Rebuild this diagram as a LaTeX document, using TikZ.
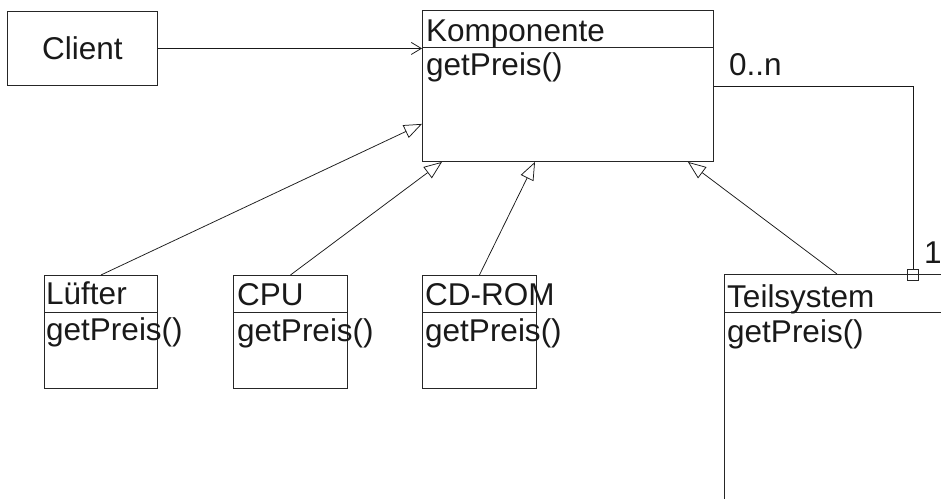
\documentclass[tikz,border=0pt]{standalone}
\usepackage{fontspec}
\setmainfont{Liberation Sans}
\usetikzlibrary{arrows.meta,calc}
\begin{document}
\begin{tikzpicture}[x=1pt,y=-1pt,
  box/.style={draw=black!85, line width=0.9pt, inner sep=0pt, anchor=north west},
  sepline/.style={draw=black!85, line width=0.9pt},
  lbl/.style={anchor=base west, inner sep=0pt, font=\fontsize{31.5}{38}\selectfont, text=black!90},
  link/.style={draw=black!90, line width=0.75pt},
  inherit/.style={link, -{Triangle[open, length=18pt, width=14pt, line width=0.75pt]}},
  navig/.style={link, -{Straight Barb[length=10pt, width=12pt, line width=0.75pt]}}]
\useasboundingbox (0,0) rectangle (941,498);
\clip (0,0) rectangle (941,498);

% client
\node[box, minimum width=150pt, minimum height=74pt,
      font=\fontsize{31.5}{38}\selectfont, text=black!90] (client) at (7,11) {Client};

% abstract component
\node[box, minimum width=291pt, minimum height=151pt] (komp) at (422,10) {};
\draw[sepline] ($(komp.north west)+(0,37)$) -- ($(komp.north east)+(0,37)$);
\node[lbl] (kname) at ($(komp.north west)+(4,31)$) {Komponente};
\node[lbl] (kop) at ($(komp.north west)+(4,65)$) {getPreis()};

% leaf classes
\node[box, minimum width=113pt, minimum height=113pt] (luefter) at (44,275) {};
\draw[sepline] ($(luefter.north west)+(0,37)$) -- ($(luefter.north east)+(0,37)$);
\node[lbl] (lname) at ($(luefter.north west)+(2,29)$) {Lüfter};
\node[lbl] (lop) at ($(luefter.north west)+(2,65)$) {getPreis()};

\node[box, minimum width=114pt, minimum height=113pt] (cpu) at (233,275) {};
\draw[sepline] ($(cpu.north west)+(0,37)$) -- ($(cpu.north east)+(0,37)$);
\node[lbl] (cname) at ($(cpu.north west)+(4,30)$) {CPU};
\node[lbl] (cop) at ($(cpu.north west)+(4,66)$) {getPreis()};

\node[box, minimum width=114pt, minimum height=113pt] (cdrom) at (422,275) {};
\draw[sepline] ($(cdrom.north west)+(0,37)$) -- ($(cdrom.north east)+(0,37)$);
\node[lbl] (dname) at ($(cdrom.north west)+(3,30)$) {CD-ROM};
\node[lbl] (dop) at ($(cdrom.north west)+(3,66)$) {getPreis()};

% composite
\node[box, minimum width=260pt, minimum height=260pt] (teil) at (724,274) {};
\draw[sepline] ($(teil.north west)+(0,38)$) -- ($(teil.north east)+(0,38)$);
\node[lbl] (tname) at ($(teil.north west)+(3,33)$) {Teilsystem};
\node[lbl] (top) at ($(teil.north west)+(3,68)$) {getPreis()};

% aggregation marker and multiplicities
\node[draw=black!85, line width=0.6pt, minimum size=11pt, inner sep=0pt] (agg) at (913,274.5) {};
\node[lbl] (mult0n) at (729,75) {0..n};
\node[lbl] (mult1) at (924,263) {1};

% connectors
\draw[navig] (client.east) -- (komp.west |- client.east);
\draw[inherit] (luefter.north) -- ($(komp.south west)+(0,-38)$);
\draw[inherit] (cpu.north) -- ($(komp.south west)+(20,0)$);
\draw[inherit] (cdrom.north) -- ($(komp.south west)+(113,0)$);
\draw[inherit] ($(teil.north west)+(113,0)$) -- ($(komp.south east)+(-26,0)$);
\draw[link] (komp.east) -| (agg.north);
\end{tikzpicture}
\end{document}
